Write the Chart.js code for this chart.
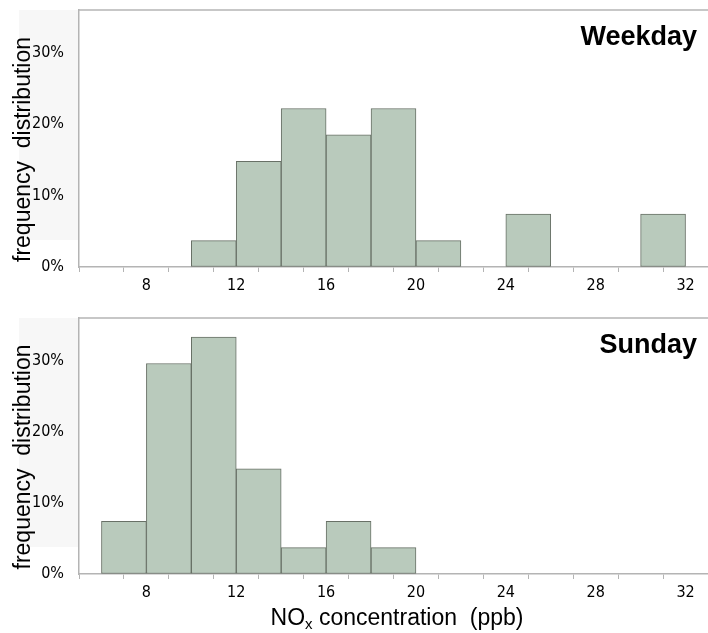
<!DOCTYPE html>
<html>
<head>
<meta charset="utf-8">
<script src="https://cdn.jsdelivr.net/npm/chart.js@4"></script>
<style>
  body { margin: 0; background: #fff; }
  .panel { position: relative; width: 708px; }
</style>
</head>
<body>
<div class="panel" style="height:300px"><canvas id="weekdayChart"></canvas></div>
<div class="panel" style="height:333px"><canvas id="sundayChart"></canvas></div>
<script>
// bin edges (ppb) and share of days in each 2 ppb bin (%)
const binStarts = [6, 8, 10, 12, 14, 16, 18, 20, 22, 24, 26, 28, 30];
const weekdayPct = [0, 0, 3.7, 14.8, 22.2, 18.5, 22.2, 3.7, 0, 7.4, 0, 0, 7.4];
const sundayPct = [7.4, 29.6, 33.3, 14.8, 3.7, 7.4, 3.7, 0, 0, 0, 0, 0, 0];
const xTicks = [6, 8, 10, 12, 14, 16, 18, 20, 22, 24, 26, 28, 30, 32];
const xLabels = [8, 12, 16, 20, 24, 28, 32];
const yTicks = [0, 10, 20, 30];

const tickFamily = "'DejaVu Sans Condensed', 'Liberation Sans Narrow', sans-serif";
const axisGrey = '#b4b4b4';

function toBars(pct) {
    return binStarts.map((s, i) => ({ x: s + 1, y: pct[i] > 0 ? pct[i] : null }));
}

// light backdrop, frame line on top, panel name, axis titles
function decorPlugin(name, withXTitle) {
    return {
        id: 'decor',
        beforeDraw(chart) {
            const c = chart.ctx, a = chart.chartArea;
            c.save();
            c.fillStyle = '#f7f7f7';
            c.fillRect(19, a.top, a.left - 19, a.bottom - a.top - 27);
            c.restore();
        },
        afterDraw(chart) {
            const c = chart.ctx, a = chart.chartArea;
            c.save();
            c.strokeStyle = axisGrey;
            c.lineWidth = 1.5;
            c.beginPath();
            c.moveTo(a.left, a.top);
            c.lineTo(a.right, a.top);
            c.stroke();

            c.fillStyle = '#000';
            c.font = "bold 27px 'Liberation Sans', Arial, sans-serif";
            c.textAlign = 'right';
            c.textBaseline = 'alphabetic';
            c.fillText(name, a.right - 11, a.top + 35);

            c.font = "23px 'Liberation Sans', Arial, sans-serif";
            c.textAlign = 'center';
            c.textBaseline = 'middle';
            c.translate(24, (a.top + a.bottom) / 2 + 11);
            c.rotate(-Math.PI / 2);
            c.fillText('frequency  distribution', 0, 0);
            c.restore();

            if (withXTitle) {
                c.save();
                c.fillStyle = '#000';
                c.textBaseline = 'alphabetic';
                c.textAlign = 'left';
                const big = "23px 'Liberation Sans', Arial, sans-serif";
                const small = "15px 'Liberation Sans', Arial, sans-serif";
                c.font = big;
                const w1 = c.measureText('NO').width;
                const w3 = c.measureText(' concentration  (ppb)').width;
                c.font = small;
                const w2 = c.measureText('x').width;
                let x = 397 - (w1 + w2 + w3) / 2;
                const base = a.bottom + 51;
                c.font = big;
                c.fillText('NO', x, base);
                x += w1;
                c.font = small;
                c.fillText('x', x, base + 4);
                x += w2;
                c.font = big;
                c.fillText(' concentration  (ppb)', x, base);
                c.restore();
            }
        }
    };
}

function makeChart(id, pct, name, padTop, xHeight, withXTitle) {
    const ctx = document.getElementById(id).getContext('2d');
    return new Chart(ctx, {
        type: 'bar',
        data: {
            datasets: [{
                data: toBars(pct),
                backgroundColor: '#b9cabc',
                borderColor: '#687066',
                borderWidth: 1,
                borderSkipped: false,
                barPercentage: 1,
                categoryPercentage: 1
            }]
        },
        options: {
            responsive: true,
            maintainAspectRatio: false,
            animation: false,
            layout: { padding: { top: padTop, right: 0, left: 0, bottom: 0 } },
            scales: {
                x: {
                    type: 'linear',
                    min: 5,
                    max: 33,
                    offset: false,
                    afterBuildTicks: s => { s.ticks = xTicks.map(v => ({ value: v })); },
                    afterFit: s => {
                        s.height = xHeight;
                        s.paddingLeft = 0; s.paddingRight = 0;
                    },
                    grid: {
                        drawOnChartArea: false,
                        drawTicks: true,
                        tickLength: 5,
                        color: axisGrey
                    },
                    border: { display: true, color: axisGrey, width: 1.5 },
                    ticks: {
                        autoSkip: false,
                        maxRotation: 0,
                        padding: 4,
                        color: '#000',
                        font: { family: tickFamily, size: 16 },
                        callback: v => xLabels.includes(v) ? String(v) : ''
                    }
                },
                y: {
                    min: 0,
                    max: 36,
                    afterBuildTicks: s => { s.ticks = yTicks.map(v => ({ value: v })); },
                    afterFit: s => {
                        s.width = 79;
                        s.paddingTop = 0; s.paddingBottom = 0;
                    },
                    grid: { drawOnChartArea: false, drawTicks: false },
                    border: { display: true, color: axisGrey, width: 1.5 },
                    ticks: {
                        padding: 15,
                        color: '#000',
                        font: { family: tickFamily, size: 16 },
                        callback: v => v + '%'
                    }
                }
            },
            plugins: {
                legend: { display: false },
                tooltip: { enabled: false }
            }
        },
        plugins: [decorPlugin(name, withXTitle)]
    });
}

makeChart('weekdayChart', weekdayPct, 'Weekday', 10, 33, false);
makeChart('sundayChart', sundayPct, 'Sunday', 18, 59, true);
</script>
</body>
</html>
